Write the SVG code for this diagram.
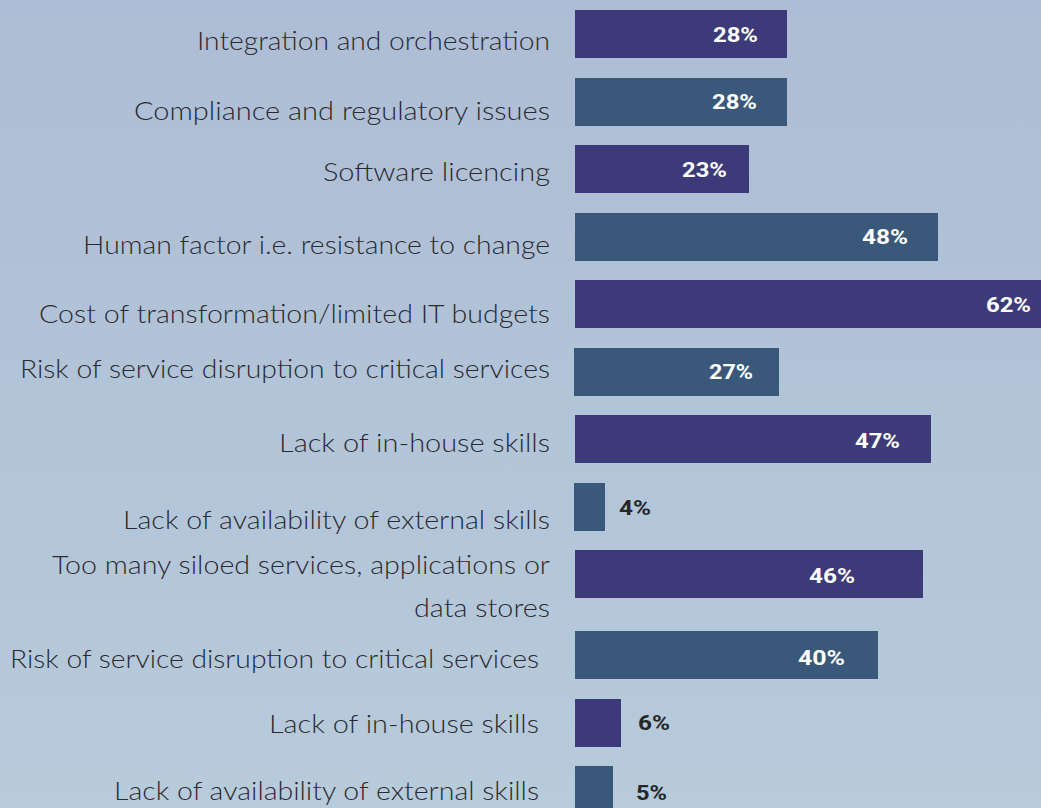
<svg xmlns="http://www.w3.org/2000/svg" width="1041" height="808" viewBox="0 0 1041 808">
  <defs>
    <linearGradient id="bg" x1="0" y1="0" x2="0" y2="1">
      <stop offset="0" stop-color="#adbdd5"/>
      <stop offset="1" stop-color="#b7cbdb"/>
    </linearGradient>
  </defs>
  <style>
    .lbl { font-family: Lato, "Open Sans", "Liberation Sans", sans-serif; font-size: 26px; font-weight: 300; fill: #2b2a31; text-anchor: start; }
    .val { font-family: Roboto, "Open Sans", "Liberation Sans", sans-serif; font-size: 21px; font-weight: 700; fill: #ffffff; }
    .val.out { fill: #262626; }
    .p { fill: #3d3a79; }
    .b { fill: #3a5879; }
  </style>
  <rect x="0" y="0" width="1041" height="808" fill="url(#bg)"/>

  <g id="row1">
    <text class="lbl" x="197" y="50" textLength="353" lengthAdjust="spacingAndGlyphs">Integration and orchestration</text>
    <rect class="p" x="575" y="10" width="212" height="48"/>
    <text class="val" x="713" y="42" textLength="45" lengthAdjust="spacingAndGlyphs">28%</text>
  </g>
  <g id="row2">
    <text class="lbl" x="134" y="120" textLength="416" lengthAdjust="spacingAndGlyphs">Compliance and regulatory issues</text>
    <rect class="b" x="575" y="78" width="212" height="48"/>
    <text class="val" x="712" y="109" textLength="45" lengthAdjust="spacingAndGlyphs">28%</text>
  </g>
  <g id="row3">
    <text class="lbl" x="323" y="181" textLength="227" lengthAdjust="spacingAndGlyphs">Software licencing</text>
    <rect class="p" x="575" y="145" width="174" height="48"/>
    <text class="val" x="682" y="177" textLength="45" lengthAdjust="spacingAndGlyphs">23%</text>
  </g>
  <g id="row4">
    <text class="lbl" x="83" y="254" textLength="467" lengthAdjust="spacingAndGlyphs">Human factor i.e. resistance to change</text>
    <rect class="b" x="575" y="213" width="363" height="48"/>
    <text class="val" x="862" y="244" textLength="46" lengthAdjust="spacingAndGlyphs">48%</text>
  </g>
  <g id="row5">
    <text class="lbl" x="39" y="323" textLength="511" lengthAdjust="spacingAndGlyphs">Cost of transformation/limited IT budgets</text>
    <rect class="p" x="575" y="280" width="466" height="48"/>
    <text class="val" x="986" y="312" textLength="45" lengthAdjust="spacingAndGlyphs">62%</text>
  </g>
  <g id="row6">
    <text class="lbl" x="20" y="378" textLength="530" lengthAdjust="spacingAndGlyphs">Risk of service disruption to critical services</text>
    <rect class="b" x="574" y="348" width="205" height="48"/>
    <text class="val" x="709" y="379" textLength="44" lengthAdjust="spacingAndGlyphs">27%</text>
  </g>
  <g id="row7">
    <text class="lbl" x="279" y="452" textLength="271" lengthAdjust="spacingAndGlyphs">Lack of in-house skills</text>
    <rect class="p" x="575" y="415" width="356" height="48"/>
    <text class="val" x="855" y="448" textLength="45" lengthAdjust="spacingAndGlyphs">47%</text>
  </g>
  <g id="row8">
    <text class="lbl" x="123" y="529" textLength="427" lengthAdjust="spacingAndGlyphs">Lack of availability of external skills</text>
    <rect class="b" x="574" y="483" width="31" height="48"/>
    <text class="val out" x="619" y="515" textLength="32" lengthAdjust="spacingAndGlyphs">4%</text>
  </g>
  <g id="row9">
    <text class="lbl" x="52" y="574" textLength="498" lengthAdjust="spacingAndGlyphs">Too many siloed services, applications or</text>
    <text class="lbl" x="414" y="617" textLength="136" lengthAdjust="spacingAndGlyphs">data stores</text>
    <rect class="p" x="575" y="550" width="348" height="48"/>
    <text class="val" x="809" y="583" textLength="46" lengthAdjust="spacingAndGlyphs">46%</text>
  </g>
  <g id="row10">
    <text class="lbl" x="10" y="668" textLength="529" lengthAdjust="spacingAndGlyphs">Risk of service disruption to critical services</text>
    <rect class="b" x="575" y="631" width="303" height="48"/>
    <text class="val" x="798" y="665" textLength="47" lengthAdjust="spacingAndGlyphs">40%</text>
  </g>
  <g id="row11">
    <text class="lbl" x="269" y="733" textLength="270" lengthAdjust="spacingAndGlyphs">Lack of in-house skills</text>
    <rect class="p" x="575" y="699" width="46" height="48"/>
    <text class="val out" x="638" y="730" textLength="32" lengthAdjust="spacingAndGlyphs">6%</text>
  </g>
  <g id="row12">
    <text class="lbl" x="114" y="800" textLength="425" lengthAdjust="spacingAndGlyphs">Lack of availability of external skills</text>
    <rect class="b" x="575" y="766" width="38" height="48"/>
    <text class="val out" x="636" y="800" textLength="31" lengthAdjust="spacingAndGlyphs">5%</text>
  </g>
</svg>
